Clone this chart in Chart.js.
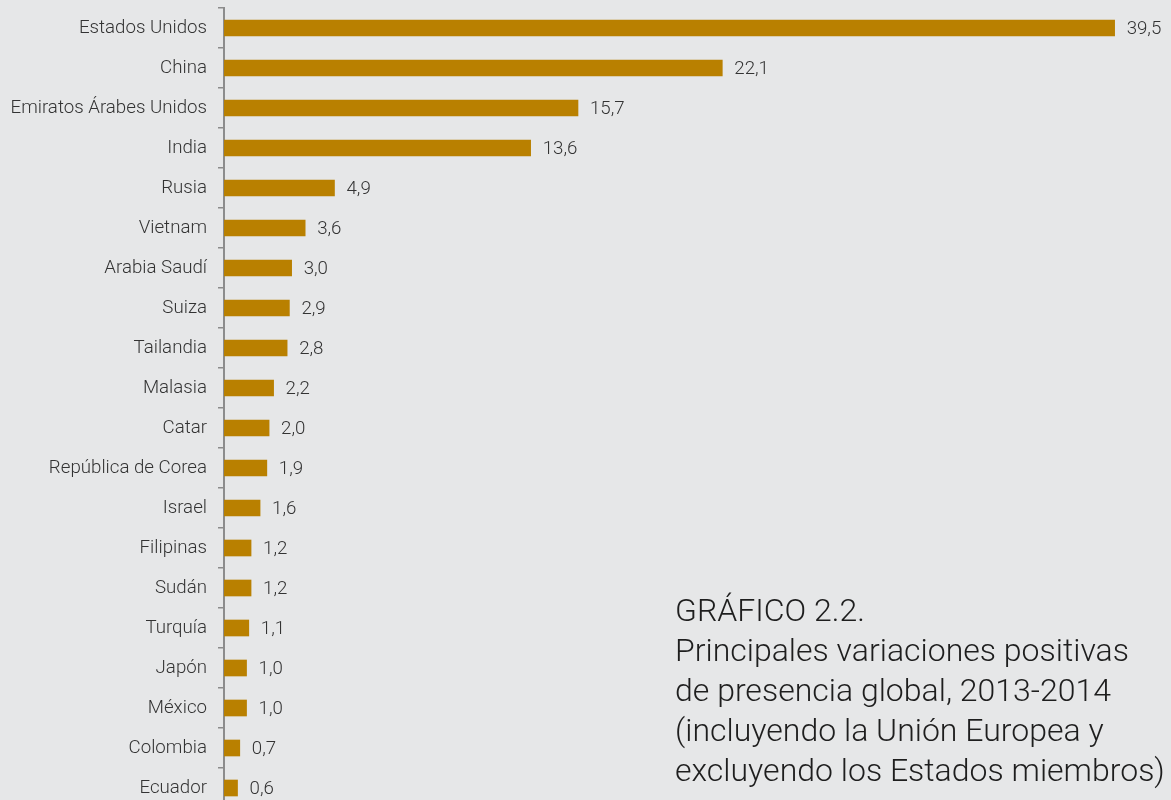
<!DOCTYPE html>
<html lang="es">
<head>
<meta charset="utf-8">
<title>Gráfico 2.2</title>
<script src="https://cdn.jsdelivr.net/npm/chart.js@4/dist/chart.umd.min.js"></script>
<style>
    html, body {
        margin: 0;
        padding: 0;
        width: 1171px;
        height: 800px;
        overflow: hidden;
        background: #e6e7e8;
        font-family: Roboto, "Noto Sans", sans-serif;
    }
    #wrap {
        position: absolute;
        left: 0;
        top: 0;
        width: 1171px;
        height: 808px;
    }
    #caption {
        position: absolute;
        left: 675px;
        top: 590px;
        font-family: Roboto, sans-serif;
        font-weight: 300;
        font-size: 32px;
        line-height: 40px;
        color: #1e1e1e;
        white-space: nowrap;
    }
</style>
</head>
<body>
<div id="wrap"><canvas id="chart"></canvas></div>
<div id="caption">GRÁFICO 2.2.<br>Principales variaciones positivas<br>de presencia global, 2013-2014<br>(incluyendo la Unión Europea y<br>excluyendo los Estados miembros)</div>

<script>
// Data
const countries = [
    'Estados Unidos', 'China', 'Emiratos Árabes Unidos', 'India', 'Rusia',
    'Vietnam', 'Arabia Saudí', 'Suiza', 'Tailandia', 'Malasia',
    'Catar', 'República de Corea', 'Israel', 'Filipinas', 'Sudán',
    'Turquía', 'Japón', 'México', 'Colombia', 'Ecuador'
];
const variation = [
    39.5, 22.1, 15.7, 13.6, 4.9,
    3.6, 3.0, 2.9, 2.8, 2.2,
    2.0, 1.9, 1.6, 1.2, 1.2,
    1.1, 1.0, 1.0, 0.7, 0.6
];
const xMax = 42;

const BAR_COLOR = '#b98000';
const TEXT_COLOR = '#333333';
const AXIS_COLOR = '#8c8c8c';
const LABEL_SIZE = 18.7;

/**
 * Value labels to the right of each bar (comma decimals)
 */
const valueLabels = {
    id: 'valueLabels',
    afterDatasetsDraw(chart) {
        const ctx = chart.ctx;
        const meta = chart.getDatasetMeta(0);
        ctx.save();
        ctx.font = `300 ${LABEL_SIZE}px Roboto, sans-serif`;
        ctx.fillStyle = TEXT_COLOR;
        ctx.textAlign = 'left';
        ctx.textBaseline = 'middle';
        meta.data.forEach((bar, i) => {
            const text = variation[i].toFixed(1).replace('.', ',');
            ctx.fillText(text, bar.x + 12, bar.y + 1);
        });
        ctx.restore();
    }
};

const ctx = document.getElementById('chart').getContext('2d');

new Chart(ctx, {
    type: 'bar',
    data: {
        labels: countries,
        datasets: [{
            data: variation,
            backgroundColor: BAR_COLOR,
            borderWidth: 0,
            barThickness: 16
        }]
    },
    options: {
        indexAxis: 'y',
        responsive: true,
        maintainAspectRatio: false,
        animation: false,
        layout: {
            padding: { top: 8, right: 0, bottom: 0, left: 0 }
        },
        scales: {
            x: {
                display: false,
                min: 0,
                max: xMax
            },
            y: {
                offset: true,
                border: {
                    display: true,
                    color: AXIS_COLOR,
                    width: 2
                },
                grid: {
                    offset: true,
                    drawOnChartArea: false,
                    drawTicks: true,
                    tickLength: 6,
                    color: AXIS_COLOR,
                    lineWidth: 1.5
                },
                ticks: {
                    padding: 11,
                    color: TEXT_COLOR,
                    font: {
                        family: 'Roboto, sans-serif',
                        size: LABEL_SIZE,
                        weight: '300'
                    }
                },
                afterFit(scale) {
                    scale.width = 224;
                    // no extra room for half label heights
                    scale.paddingTop = 0;
                    scale.paddingBottom = 0;
                }
            }
        },
        plugins: {
            legend: { display: false },
            tooltip: { enabled: false }
        }
    },
    plugins: [valueLabels]
});
</script>
</body>
</html>
